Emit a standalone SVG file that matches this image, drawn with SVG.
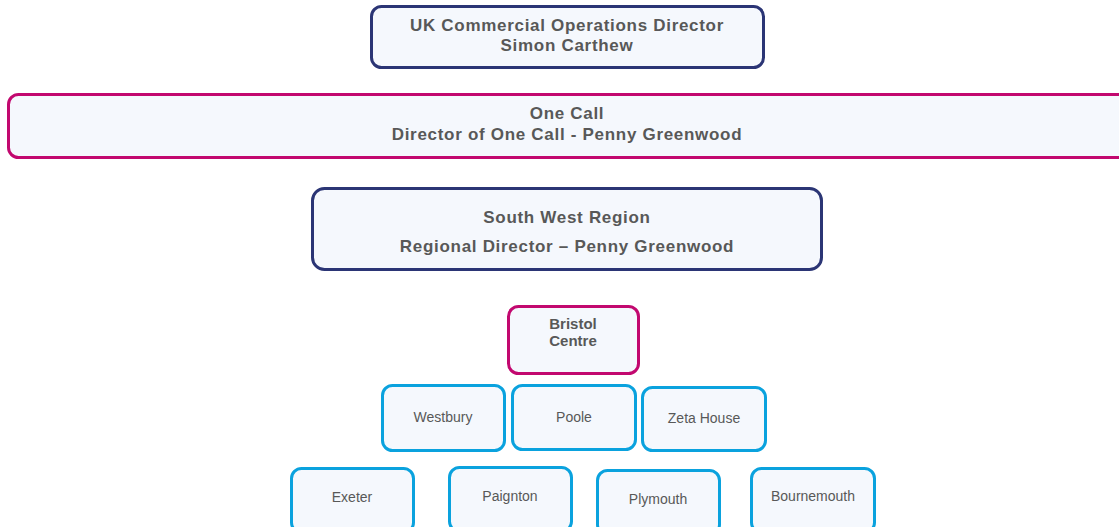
<svg xmlns="http://www.w3.org/2000/svg" width="1119" height="527" viewBox="0 0 1119 527">
<style>
.box{fill:#f5f8fd;stroke-width:3}
.navy{stroke:#2b3575}
.mag{stroke:#c2086f}
.cyan{stroke:#0aa2de}
text{font-family:"Liberation Sans",Arial,sans-serif;fill:#585858;text-anchor:middle}
.b{font-weight:bold;font-size:17px;letter-spacing:0.7px}
.s{font-weight:bold;font-size:15px}
.n{font-size:14px}
</style>
<rect width="1119" height="527" fill="#ffffff"/>
<g id="connectors"></g>
<g id="uk-director">
<rect class="box navy" x="371.5" y="6.5" width="392" height="61" rx="10"/>
<text class="b" x="567" y="31">UK Commercial Operations Director</text>
<text class="b" x="567" y="51">Simon Carthew</text>
</g>
<g id="one-call">
<rect class="box mag" x="8.5" y="94.5" width="1120" height="63" rx="10"/>
<text class="b" x="567" y="119">One Call</text>
<text class="b" x="567" y="140">Director of One Call - Penny Greenwood</text>
</g>
<g id="south-west">
<rect class="box navy" x="312.5" y="188.5" width="509" height="81" rx="12"/>
<text class="b" x="567" y="223">South West Region</text>
<text class="b" x="567" y="252">Regional Director – Penny Greenwood</text>
</g>
<g id="bristol">
<rect class="box mag" x="508.5" y="306.5" width="130" height="67" rx="10"/>
<text class="s" x="573" y="329">Bristol</text>
<text class="s" x="573" y="346">Centre</text>
</g>
<g id="westbury">
<rect class="box cyan" x="382.5" y="385.5" width="122" height="65" rx="10"/>
<text class="n" x="443" y="422">Westbury</text>
</g>
<g id="poole">
<rect class="box cyan" x="512.5" y="385.5" width="123" height="64" rx="10"/>
<text class="n" x="574" y="422">Poole</text>
</g>
<g id="zeta-house">
<rect class="box cyan" x="642.5" y="387.5" width="123" height="63" rx="10"/>
<text class="n" x="704" y="423">Zeta House</text>
</g>
<g id="exeter">
<rect class="box cyan" x="291.5" y="468.5" width="122" height="64" rx="10"/>
<text class="n" x="352" y="502">Exeter</text>
</g>
<g id="paignton">
<rect class="box cyan" x="449.5" y="467.5" width="122" height="64" rx="10"/>
<text class="n" x="510" y="501">Paignton</text>
</g>
<g id="plymouth">
<rect class="box cyan" x="597.5" y="470.5" width="122" height="64" rx="10"/>
<text class="n" x="658" y="504">Plymouth</text>
</g>
<g id="bournemouth">
<rect class="box cyan" x="751.5" y="468.5" width="123" height="64" rx="10"/>
<text class="n" x="813" y="501">Bournemouth</text>
</g>
</svg>
